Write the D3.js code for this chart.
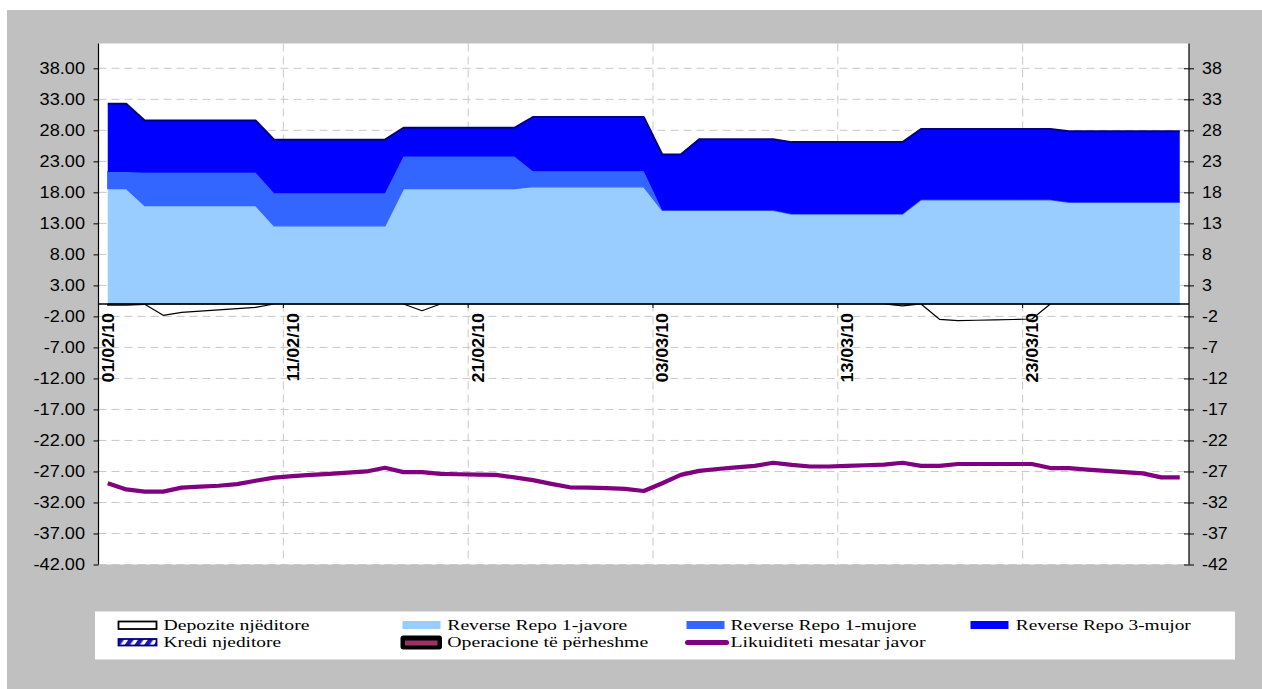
<!DOCTYPE html>
<html>
<head>
<meta charset="utf-8">
<script src="https://cdn.jsdelivr.net/npm/d3@7"></script>
<style>
  html, body { margin: 0; padding: 0; background: #ffffff; }
  svg { display: block; }
</style>
</head>
<body>
<svg id="chart" width="1262" height="689"></svg>
<script>
// ---------------- DATA ----------------
const dates = [
  "01/02/10","02/02/10","03/02/10","04/02/10","05/02/10","06/02/10","07/02/10","08/02/10","09/02/10","10/02/10",
  "11/02/10","12/02/10","13/02/10","14/02/10","15/02/10","16/02/10","17/02/10","18/02/10","19/02/10","20/02/10",
  "21/02/10","22/02/10","23/02/10","24/02/10","25/02/10","26/02/10","27/02/10","28/02/10","01/03/10","02/03/10",
  "03/03/10","04/03/10","05/03/10","06/03/10","07/03/10","08/03/10","09/03/10","10/03/10","11/03/10","12/03/10",
  "13/03/10","14/03/10","15/03/10","16/03/10","17/03/10","18/03/10","19/03/10","20/03/10","21/03/10","22/03/10",
  "23/03/10","24/03/10","25/03/10","26/03/10","27/03/10","28/03/10","29/03/10","30/03/10","31/03/10"
];

const repo1Javore = [
  18.6, 18.6,
  15.85, 15.85, 15.85, 15.85, 15.85, 15.85, 15.85,
  12.6, 12.6, 12.6, 12.6, 12.6, 12.6, 12.6,
  18.6, 18.6, 18.6, 18.6, 18.6, 18.6, 18.6,
  18.9, 18.9, 18.9, 18.9, 18.9, 18.9, 18.9,
  15.1, 15.1, 15.1, 15.1, 15.1, 15.1, 15.1,
  14.5, 14.5, 14.5, 14.5, 14.5, 14.5, 14.5,
  16.8, 16.8, 16.8, 16.8, 16.8, 16.8, 16.8, 16.8,
  16.4, 16.4, 16.4, 16.4, 16.4, 16.4, 16.4
];

const repo1Mujore = [
  2.7, 2.7,
  5.3, 5.3, 5.3, 5.3, 5.3, 5.3, 5.3,
  5.25, 5.25, 5.25, 5.25, 5.25, 5.25, 5.25,
  5.2, 5.2, 5.2, 5.2, 5.2, 5.2, 5.2,
  2.5, 2.5, 2.5, 2.5, 2.5, 2.5, 2.5,
  0, 0, 0, 0, 0, 0, 0,
  0, 0, 0, 0, 0, 0, 0,
  0, 0, 0, 0, 0, 0, 0, 0,
  0, 0, 0, 0, 0, 0, 0
];

const repo3Mujor = [
  11.0, 11.0,
  8.45, 8.45, 8.45, 8.45, 8.45, 8.45, 8.45,
  8.65, 8.65, 8.65, 8.65, 8.65, 8.65, 8.65,
  4.6, 4.6, 4.6, 4.6, 4.6, 4.6, 4.6,
  8.75, 8.75, 8.75, 8.75, 8.75, 8.75, 8.75,
  9.0, 9.0, 11.45, 11.45, 11.45, 11.45, 11.45,
  11.6, 11.6, 11.6, 11.6, 11.6, 11.6, 11.6,
  11.4, 11.4, 11.4, 11.4, 11.4, 11.4, 11.4, 11.4,
  11.45, 11.45, 11.45, 11.45, 11.45, 11.45, 11.45
];

const depoziteNjeditore = [
  -0.2, -0.2, -0.05, -1.82, -1.34, -1.14, -0.94, -0.74, -0.54, 0,
  0, 0, 0, 0, 0, 0, 0, -1.08, 0, 0,
  0, 0, 0, 0, 0, 0, 0, 0, 0, 0,
  0, 0, 0, 0, 0, 0, 0, 0, 0, 0,
  0, 0, 0, -0.3, 0, -2.47, -2.69, -2.62, -2.56, -2.5,
  -2.42, 0, 0, 0, 0, 0, 0, 0, 0
];

const likuiditetiMesatar = [
  -28.9, -29.9, -30.25, -30.25, -29.6, -29.45, -29.3, -29.05, -28.5, -28.0,
  -27.75, -27.55, -27.4, -27.2, -27.0, -26.4, -27.1, -27.1, -27.4, -27.45,
  -27.5, -27.55, -27.95, -28.4, -29.0, -29.55, -29.6, -29.7, -29.8, -30.15,
  -28.9, -27.55, -26.9, -26.6, -26.35, -26.1, -25.6, -25.95, -26.2, -26.2,
  -26.1, -26.0, -25.9, -25.6, -26.1, -26.1, -25.8, -25.8, -25.8, -25.8,
  -25.8, -26.45, -26.45, -26.7, -26.9, -27.1, -27.3, -27.95, -27.95
];

const yTicks = [-42, -37, -32, -27, -22, -17, -12, -7, -2, 3, 8, 13, 18, 23, 28, 33, 38];
const labelDates = ["01/02/10", "11/02/10", "21/02/10", "03/03/10", "13/03/10", "23/03/10"];

const legendItems = [
  { name: "Depozite njëditore", type: "box" },
  { name: "Reverse Repo 1-javore", type: "fill", color: "#99CCFF" },
  { name: "Reverse Repo 1-mujore", type: "fill", color: "#3366FF" },
  { name: "Reverse Repo 3-mujor", type: "fill", color: "#0000FF" },
  { name: "Kredi njeditore", type: "hatch" },
  { name: "Operacione të përheshme", type: "oper" },
  { name: "Likuiditeti mesatar javor", type: "line", color: "#800080" }
];

// ---------------- LAYOUT ----------------
const svg = d3.select("#chart");
const plot = { left: 98.5, right: 1189, top: 43.5, bottom: 564.5 };
const SANS = "'Liberation Sans', Arial, sans-serif";
const SERIF = "'Liberation Serif', 'Times New Roman', serif";

// stretch helper to mimic wide glyphs
function stretch(sel, k) {
  sel.each(function () {
    const w = this.getComputedTextLength();
    d3.select(this).attr("textLength", w * k).attr("lengthAdjust", "spacingAndGlyphs");
  });
}

// background panel
svg.append("rect").attr("x", 7).attr("y", 10).attr("width", 1255).attr("height", 679).attr("fill", "#C0C0C0");
svg.append("rect").attr("x", plot.left).attr("y", plot.top)
  .attr("width", plot.right - plot.left).attr("height", plot.bottom - plot.top).attr("fill", "#ffffff");

const x = d3.scaleBand().domain(dates).range([plot.left, plot.right]).padding(0);
const cx = (i) => x(dates[i]) + x.bandwidth() / 2;
const y = d3.scaleLinear().domain([-42, 42]).range([plot.bottom, plot.top]);

// gridlines
const grid = svg.append("g");
grid.selectAll("line.h").data(yTicks).join("line")
  .attr("x1", plot.left).attr("x2", plot.right)
  .attr("y1", d => y(d)).attr("y2", d => y(d))
  .attr("stroke", "#c8c8c8").attr("stroke-width", 1).attr("stroke-dasharray", "8,5");
const vGridDates = labelDates.slice(1);
grid.selectAll("line.v").data(vGridDates).join("line")
  .attr("x1", d => x(d)).attr("x2", d => x(d))
  .attr("y1", plot.top).attr("y2", plot.bottom)
  .attr("stroke", "#c8c8c8").attr("stroke-width", 1).attr("stroke-dasharray", "8,5");

// stacked areas
const table = dates.map((d, i) => ({ date: d, javore: repo1Javore[i], mujore: repo1Mujore[i], mujor: repo3Mujor[i] }));
const stack = d3.stack().keys(["javore", "mujore", "mujor"]);
const layers = stack(table);
const fills = { javore: "#99CCFF", mujore: "#3366FF", mujor: "#0000FF" };

const area = d3.area().x((d, i) => cx(i)).y0(d => y(d[0])).y1(d => y(d[1]));
const gA = svg.append("g");
gA.selectAll("path.layer").data(layers).join("path")
  .attr("d", area)
  .attr("fill", d => fills[d.key])
  .attr("stroke", d => d.key === "mujore" ? "#3366FF" : "none")
  .attr("stroke-width", d => d.key === "mujore" ? 1.2 : 0);

// top border of the 3-month layer
const topLine = d3.line().x((d, i) => cx(i)).y(d => y(d[1]));
gA.append("path").attr("d", topLine(layers[2]))
  .attr("fill", "none").attr("stroke", "#000080").attr("stroke-width", 2).attr("stroke-linejoin", "round");

// overnight deposits (negative area, outline)
const depArea = d3.area().x((d, i) => cx(i)).y0(y(0)).y1(d => y(d));
svg.append("path").attr("d", depArea(depoziteNjeditore))
  .attr("fill", "none").attr("stroke", "#000000").attr("stroke-width", 1.2).attr("stroke-linejoin", "round");

// x-axis line at zero
svg.append("line").attr("x1", plot.left).attr("x2", plot.right)
  .attr("y1", y(0)).attr("y2", y(0)).attr("stroke", "#000000").attr("stroke-width", 1.5);
svg.selectAll("line.xt").data(vGridDates).join("line")
  .attr("x1", d => x(d)).attr("x2", d => x(d))
  .attr("y1", y(0)).attr("y2", y(0) + 4).attr("stroke", "#000").attr("stroke-width", 1);

// average liquidity line
const liqLine = d3.line().x((d, i) => cx(i)).y(d => y(d));
svg.append("path").attr("d", liqLine(likuiditetiMesatar))
  .attr("fill", "none").attr("stroke", "#800080").attr("stroke-width", 4.2)
  .attr("stroke-linejoin", "round").attr("stroke-linecap", "butt");

// x axis labels (rotated)
const xAxis = d3.axisBottom(x).tickValues(labelDates).tickSize(0).tickPadding(0);
const gx = svg.append("g").attr("transform", `translate(0,${y(0)})`).call(xAxis);
gx.select(".domain").remove();
gx.selectAll("text")
  .attr("x", 0).attr("y", 0).attr("dy", "0.36em")
  .attr("transform", "translate(0,9) rotate(-90)")
  .attr("text-anchor", "end")
  .attr("font-family", SANS).attr("font-size", "17px").attr("font-weight", "bold").attr("fill", "#000");
stretch(gx.selectAll("text"), 1.05);

// left axis
const yAxisL = d3.axisLeft(y).tickValues(yTicks).tickFormat(d => d.toFixed(2)).tickSize(5).tickPadding(8.5);
const gyl = svg.append("g").attr("transform", `translate(${plot.left},0)`).call(yAxisL);
gyl.select(".domain").attr("stroke", "#000").attr("stroke-width", 1.2).attr("d", `M0,${plot.top}V${plot.bottom}`);
gyl.selectAll(".tick line").attr("stroke", "#000");
gyl.selectAll("text").attr("font-family", SANS).attr("font-size", "16.5px").attr("fill", "#000");
stretch(gyl.selectAll("text"), 1.1);

// right axis
const yAxisR = d3.axisRight(y).tickValues(yTicks).tickFormat(d => String(d)).tickSize(5).tickPadding(8);
const gyr = svg.append("g").attr("transform", `translate(${plot.right},0)`).call(yAxisR);
gyr.select(".domain").attr("stroke", "#000").attr("stroke-width", 1.2).attr("d", `M0,${plot.top}V${plot.bottom}`);
gyr.selectAll(".tick line").attr("stroke", "#000").attr("x1", -5).attr("x2", 5);
gyr.selectAll("text").attr("font-family", SANS).attr("font-size", "16.5px").attr("fill", "#000");
stretch(gyr.selectAll("text"), 1.08);

// ---------------- LEGEND ----------------
const defs = svg.append("defs");
const pat = defs.append("pattern").attr("id", "hatch").attr("patternUnits", "userSpaceOnUse")
  .attr("width", 8).attr("height", 8).attr("patternTransform", "rotate(35)");
pat.append("rect").attr("width", 8).attr("height", 8).attr("fill", "#ffffff");
pat.append("rect").attr("width", 4.5).attr("height", 8).attr("fill", "#1a1aa8");

svg.append("rect").attr("x", 95).attr("y", 611.5).attr("width", 1140).attr("height", 48).attr("fill", "#ffffff");

const legendPos = [
  { sx: 118.5, tx: 163.5, row: 0, w: 146 },
  { sx: 402.5, tx: 447.3, row: 0, w: 180 },
  { sx: 686.5, tx: 730.5, row: 0, w: 186 },
  { sx: 970.5, tx: 1015.8, row: 0, w: 175 },
  { sx: 118.5, tx: 163.5, row: 1, w: 117.5 },
  { sx: 402.5, tx: 447.3, row: 1, w: 201 },
  { sx: 686.5, tx: 730.5, row: 1, w: 195 }
];
const rowBase = [630, 647];
const rowSym = [621.5, 638.5];

const gl = svg.append("g");
legendItems.forEach((it, k) => {
  const p = legendPos[k];
  const sy = rowSym[p.row];
  if (it.type === "box") {
    gl.append("rect").attr("x", p.sx).attr("y", sy).attr("width", 38).attr("height", 7.5)
      .attr("fill", "#fff").attr("stroke", "#000").attr("stroke-width", 1.8);
  } else if (it.type === "fill") {
    gl.append("rect").attr("x", p.sx).attr("y", sy - 0.5).attr("width", 38).attr("height", 8)
      .attr("fill", it.color);
  } else if (it.type === "hatch") {
    gl.append("rect").attr("x", p.sx).attr("y", sy + 0.5).attr("width", 38).attr("height", 6.5)
      .attr("fill", "url(#hatch)").attr("stroke", "#000080").attr("stroke-width", 1.8);
  } else if (it.type === "oper") {
    gl.append("rect").attr("x", p.sx - 2).attr("y", sy - 3).attr("width", 41.5).attr("height", 14)
      .attr("rx", 3).attr("fill", "#000");
    gl.append("rect").attr("x", p.sx + 2.5).attr("y", sy + 2).attr("width", 32.5).attr("height", 5)
      .attr("fill", "#993366");
  } else if (it.type === "line") {
    gl.append("line").attr("x1", p.sx + 1).attr("x2", p.sx + 40).attr("y1", sy + 4).attr("y2", sy + 4)
      .attr("stroke", it.color).attr("stroke-width", 5).attr("stroke-linecap", "round");
  }
  gl.append("text").attr("x", p.tx).attr("y", rowBase[p.row]).text(it.name)
    .attr("font-family", SERIF).attr("font-size", "15.5px").attr("fill", "#000")
    .attr("textLength", p.w).attr("lengthAdjust", "spacingAndGlyphs");
});
</script>
</body>
</html>
